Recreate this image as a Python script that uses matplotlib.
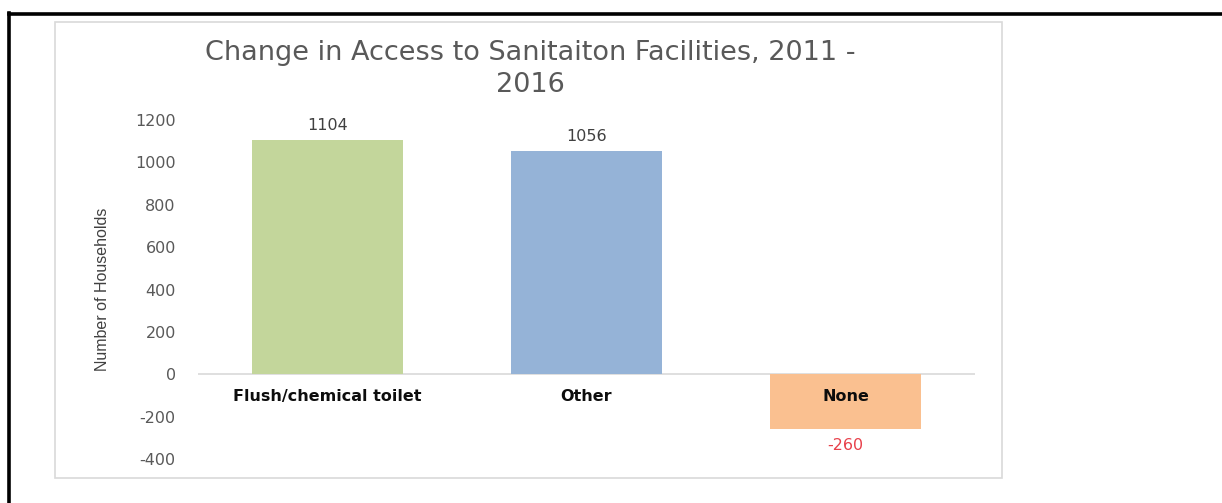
import matplotlib.pyplot as plt
from matplotlib.patches import Rectangle
from matplotlib.lines import Line2D

# %% data
categories = ['Flush/chemical toilet', 'Other', 'None']
changes = [1104, 1056, -260]
bar_colors = ['#C3D69B', '#95B3D7', '#FAC090']
label_colors = ['#404040', '#404040', '#E8414B']
yticks = [-400, -200, 0, 200, 400, 600, 800, 1000, 1200]

plt.rcParams['font.family'] = ['DejaVu Sans']

# %% figure and frames
fig = plt.figure(figsize=(12.22, 5.03), dpi=100)
W, H = 1222, 503

def fx(px):
    return px / W

def fy(py):
    return 1 - py / H

# black frame, left and top edges
fig.add_artist(Line2D([fx(8.5), fx(8.5)], [fy(13), 0], color='black', lw=2.6))
fig.add_artist(Line2D([fx(8.5), 1], [fy(13.5), fy(13.5)], color='black', lw=2.6))

# light chart area border
fig.add_artist(Rectangle((fx(55), fy(478)), fx(1002) - fx(55), fy(22) - fy(478),
                         fill=False, edgecolor='#D9D9D9', lw=1.2))

ax = fig.add_axes([fx(198), fy(459), fx(975) - fx(198), fy(120) - fy(459)])

x = range(len(categories))
ax.bar(x, changes, width=0.58, color=bar_colors, zorder=2)
ax.axhline(0, color='#D9D9D9', lw=1.2, zorder=1)

ax.set_xlim(-0.5, 2.5)
ax.set_ylim(-400, 1200)
ax.set_yticks(yticks)
ax.set_yticklabels([str(t) for t in yticks], fontsize=11.5, color='#595959')
ax.tick_params(axis='y', length=0, pad=16)
ax.set_xticks([])
for s in ax.spines.values():
    s.set_visible(False)

# category names just under the zero line
for i, name in enumerate(categories):
    ax.annotate(name, (i, 0), xytext=(0, -16), textcoords='offset points',
                ha='center', va='center', fontsize=11.5, fontweight='bold',
                color='#0D0D0D')

# value labels
for i, v in enumerate(changes):
    off = 5 if v >= 0 else -6
    ax.annotate(str(v), (i, v), xytext=(0, off), textcoords='offset points',
                ha='center', va='bottom' if v >= 0 else 'top',
                fontsize=11.5, color=label_colors[i])

ax.set_ylabel('Number of Households', fontsize=11.5, color='#404040',
              family=['Liberation Sans Narrow', 'Liberation Sans'])
ax.yaxis.set_label_coords(-(198 - 110) / (975 - 198), 0.5)

fig.text(fx(530), fy(69), 'Change in Access to Sanitaiton Facilities, 2011 -\n2016',
         ha='center', va='center', fontsize=19.5, color='#595959', linespacing=1.35)

fig.savefig('out.png', dpi=100)
